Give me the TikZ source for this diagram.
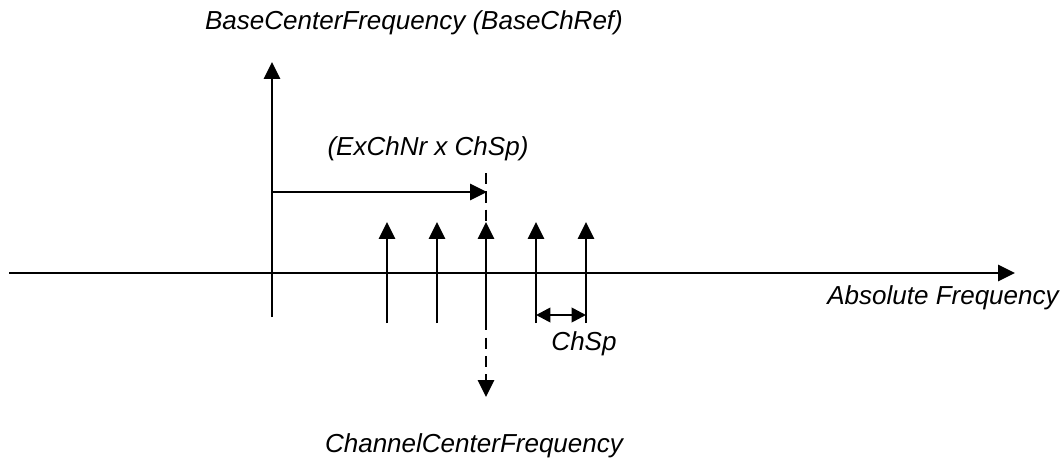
\documentclass[tikz,border=0pt]{standalone}
\usepackage{fontspec}
\setmainfont{Liberation Sans}
\usepackage{tikz}
\usetikzlibrary{arrows.meta, positioning}

\begin{document}
\begin{tikzpicture}[
    x=0.025cm, y=-0.025cm, line width=1.9pt,
    teks/.style={font=\fontsize{18.5}{22}\selectfont\itshape, inner sep=0pt, anchor=base},
    panah/.style={-{Triangle[length=4.2mm, width=4mm]}},
    panahkecil/.style={{Triangle[length=3.6mm, width=3.6mm]}-{Triangle[length=3.6mm, width=3.6mm]}}
  ]
    \useasboundingbox (0,0) rectangle (1064,460);
    % sumbu frekuensi
    \coordinate (ax0) at (9,273);
    \coordinate (ax1) at (1015,273);
    \draw[panah] (ax0) -- (ax1);
    \node[teks] (absfreq) at (943,304) {Absolute Frequency};
    % frekuensi dasar
    \coordinate (basebot) at (272,317);
    \coordinate (basetop) at (272,62);
    \draw[panah] (basebot) -- (basetop);
    \node[teks] (basefreq) at (414,29) {BaseCenterFrequency (BaseChRef)};
    % geseran ke kanal
    \coordinate (geserL) at (272,192);
    \coordinate (geserR) at (487,192);
    \draw[panah] (geserL) -- (geserR);
    \node[teks] (geser) at (428,155) {(ExChNr x ChSp)};
    % kanal-kanal
    \foreach \x [count=\i] in {387,437,486,536,586} {
      \coordinate (lo\i) at (\x,323);
      \coordinate (hi\i) at (\x,222);
      \draw[panah] (lo\i) -- (hi\i);
    }
    \coordinate (dtop) at (486,173);
    \coordinate (dbot) at (486,397);
    \draw[panah, dash pattern=on 8pt off 5pt] (dtop) -- (dbot);
    \node[teks] (chfreq) at (474,452) {ChannelCenterFrequency};
    % jarak kanal
    \draw[panahkecil] (lo4 |- 0,315) -- (lo5 |- 0,315);
    \node[teks] (chsp) at (584,350) {ChSp};
  \end{tikzpicture}
\end{document}
